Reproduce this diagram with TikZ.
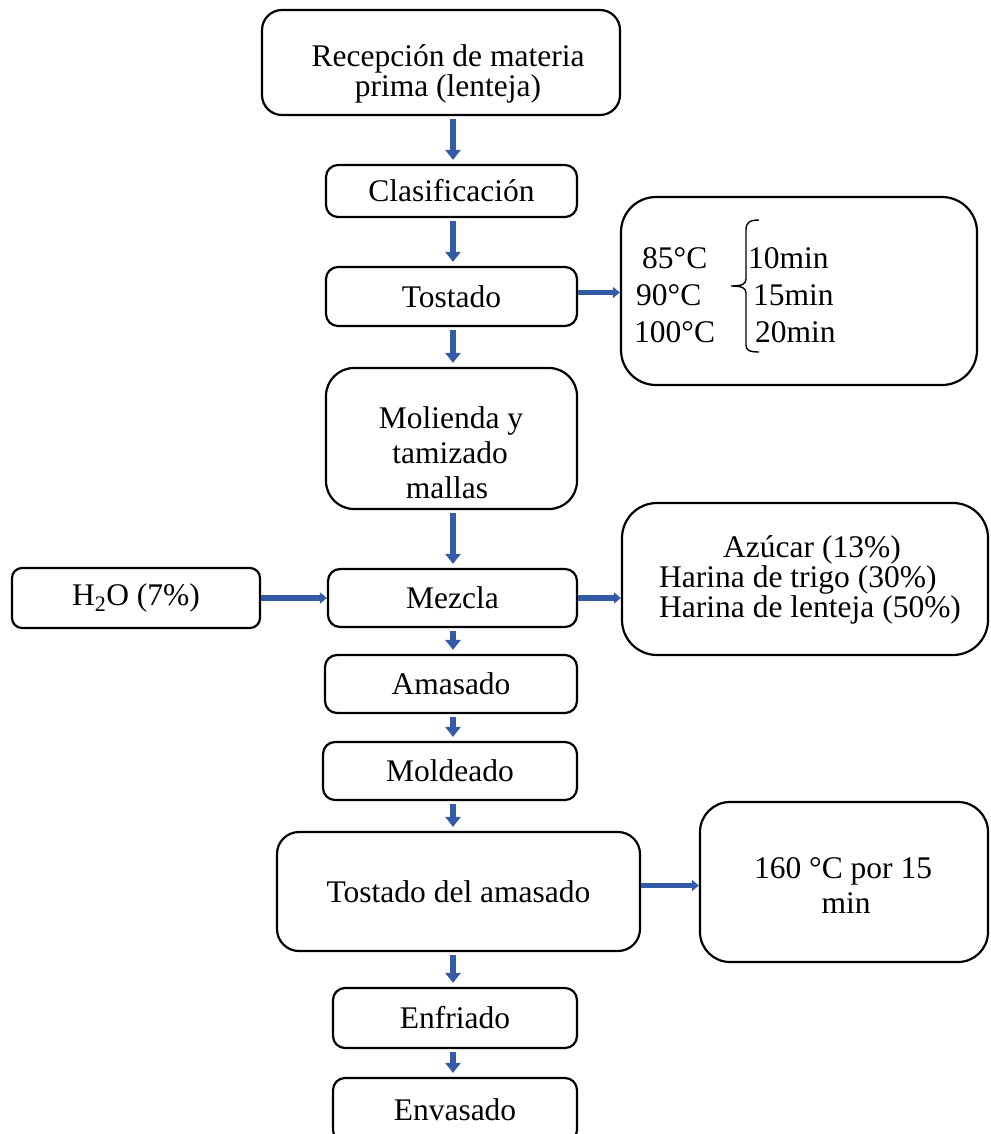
\documentclass[tikz,border=0pt]{standalone}
\usepackage{fontspec}
\setmainfont{Liberation Serif}
\usetikzlibrary{arrows.meta}
\definecolor{azulflecha}{RGB}{52,92,166}
\tikzset{
  caja/.style={draw, line width=2.2pt, rounded corners=12pt, inner sep=0pt, align=center, font=\fontsize{31.5}{30}\selectfont},
  texto/.style={inner sep=0pt, font=\fontsize{31.5}{30}\selectfont},
  flecha/.style={color=azulflecha, line width=6.5pt, -{Triangle[width=15pt,length=10pt]}, shorten <=3pt, shorten >=4pt},
  flechah/.style={color=azulflecha, line width=5.5pt, -{Triangle[width=11pt,length=7pt]}}
}

\begin{document}
\begin{tikzpicture}[x=1pt,y=-1pt]
\useasboundingbox (0,0) rectangle (990,1134);
\coordinate (eje) at (453,0);

%Cajas del proceso
\node[caja, rounded corners=20pt, minimum width=358pt, minimum height=105pt] (recepcion) at (441,62.5) {};
\node[texto, anchor=base] (recepcion1) at (448,67) {Recepción de materia};
\node[texto, anchor=base] (recepcion2) at (448,97) {prima (lenteja)};
\node[caja, minimum width=251pt, minimum height=52pt] (clasificacion) at (451.5,191) {Clasificación};
\node[caja, minimum width=251pt, minimum height=59pt] (tostado) at (451.5,296.5) {Tostado};
\node[caja, rounded corners=28pt, minimum width=251pt, minimum height=141pt] (molienda) at (451.5,438.5) {};
\node[texto, anchor=base] (molienda1) at (451,428) {Molienda y};
\node[texto, anchor=base] (molienda2) at (450,463) {tamizado};
\node[texto, anchor=base] (molienda3) at (447,498) {mallas};
\node[caja, minimum width=249pt, minimum height=58pt] (mezcla) at (452.5,598) {Mezcla};
\node[caja, rounded corners=10pt, minimum width=248pt, minimum height=60pt] (agua) at (136,598) {H\textsubscript{2}O (7\%)};
\node[caja, minimum width=252pt, minimum height=58pt] (amasado) at (451,684) {Amasado};
\node[caja, minimum width=254pt, minimum height=58pt] (moldeado) at (450,771) {Moldeado};
\node[caja, rounded corners=22pt, minimum width=363pt, minimum height=119pt] (tostamasado) at (458.5,891.5) {Tostado del amasado};
\node[caja, minimum width=244pt, minimum height=60pt] (enfriado) at (455,1018) {Enfriado};
\node[caja, minimum width=244pt, minimum height=64pt] (envasado) at (455,1110) {Envasado};

%Cajas laterales
\node[caja, rounded corners=35pt, minimum width=356pt, minimum height=188pt] (condiciones) at (799,291) {};
\node[texto, anchor=base west] (t85) at (642,268) {85°C};
\node[texto, anchor=base west] (t90) at (636,305) {90°C};
\node[texto, anchor=base west] (t100) at (634,342) {100°C};
\node[texto, anchor=base west] (m10) at (748,268) {10min};
\node[texto, anchor=base west] (m15) at (753,305) {15min};
\node[texto, anchor=base west] (m20) at (755,342) {20min};
\draw[line width=1.4pt] (759,220) .. controls (749,220) and (746,223) .. (746,230) -- (746,279)
  .. controls (746,284) and (742,286) .. (731,286) .. controls (742,286) and (746,288) .. (746,293)
  -- (746,345) .. controls (746,350) and (749,352) .. (759,352);

\node[caja, rounded corners=35pt, minimum width=366pt, minimum height=152pt] (ingredientes) at (805,579) {};
\node[texto, anchor=base west] (azucar) at (723,557) {Azúcar (13\%)};
\node[texto, anchor=base west] (trigo) at (659,587) {Harina de trigo (30\%)};
\node[texto, anchor=base west] (lenteja) at (659,617) {Harina de lenteja (50\%)};

\node[caja, rounded corners=30pt, minimum width=288pt, minimum height=160pt] (horneo) at (844,882) {};
\node[texto, anchor=base] (horneo1) at (843,878) {160 °C por 15};
\node[texto, anchor=base] (horneo2) at (846,913) {min};

%Flechas
\foreach \a/\b in {recepcion/clasificacion, clasificacion/tostado, tostado/molienda, molienda/mezcla, mezcla/amasado, amasado/moldeado, moldeado/tostamasado, tostamasado/enfriado, enfriado/envasado}
  \draw[flecha] (\a.south -| eje) -- (\b.north -| eje);
\draw[flechah] ([yshift=4pt]tostado.east) -- ([yshift=4pt]tostado.east -| condiciones.west);
\draw[flechah] (agua.east) -- (mezcla.west);
\draw[flechah] (mezcla.east) -- (mezcla.east -| ingredientes.west);
\draw[flechah] ([yshift=6pt]tostamasado.east) -- ([yshift=6pt]tostamasado.east -| horneo.west);

\end{tikzpicture}
\end{document}
